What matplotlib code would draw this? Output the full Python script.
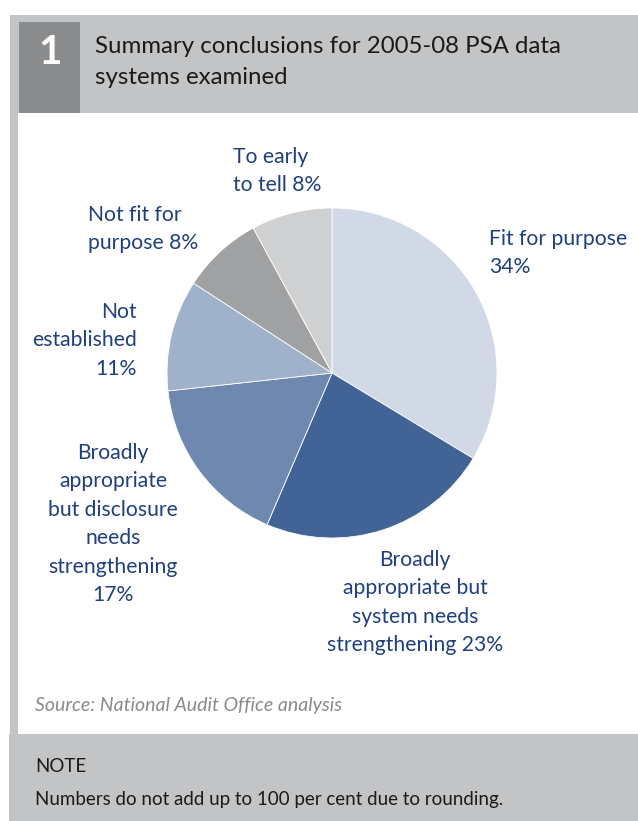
import matplotlib
matplotlib.use("Agg")
import matplotlib.pyplot as plt
from matplotlib.patches import Rectangle

W, H = 638, 821
categories = ["Fit for purpose", "Broadly appropriate but system needs strengthening",
              "Broadly appropriate but disclosure needs strengthening", "Not established",
              "Not fit for purpose", "To early to tell"]
values = [34, 23, 17, 11, 8, 8]
colors = ["#D0D9E5", "#426396", "#6E88AF", "#A0B1CB", "#A0A1A3", "#CFD0D2"]
label_texts = ["Fit for purpose\n34%",
               "Broadly\nappropriate but\nsystem needs\nstrengthening 23%",
               "Broadly\nappropriate\nbut disclosure\nneeds\nstrengthening\n17%",
               "Not\nestablished\n11%",
               "Not fit for\npurpose 8%",
               "To early\nto tell 8%"]

plt.rcParams['font.family'] = ['Lato', 'DejaVu Sans']
fig = plt.figure(figsize=(W / 100, H / 100), dpi=100)
fig.patch.set_facecolor("white")

def fx(x): return x / W
def fy(y): return 1 - y / H

# background panels
bg = fig.add_axes([0, 0, 1, 1])
bg.set_xlim(0, W); bg.set_ylim(H, 0); bg.axis("off")
bg.add_patch(Rectangle((12, 15), W - 12, 98, color="#C3C4C6", lw=0))
bg.add_patch(Rectangle((10, 15), 8, 720, color="#C3C4C6", lw=0))
bg.add_patch(Rectangle((9, 734), W - 9, H - 734, color="#C3C4C6", lw=0))
bg.add_patch(Rectangle((19, 22), 61, 91, color="#8A8B8D", lw=0))
bg.text(50, 52, "1", color="white", fontsize=29, fontweight="bold", ha="center", va="center")
bg.text(95, 36, "Summary conclusions for 2005-08 PSA data\nsystems examined",
        color="#1a1a1a", fontsize=17.3, ha="left", va="top", linespacing=1.58)
bg.text(35, 705, "Source: National Audit Office analysis", color="#8a8a8a",
        fontsize=14, style="italic", ha="left", va="center")
bg.text(35, 767, "NOTE", color="#1a1a1a", fontsize=13.5, ha="left", va="center")
bg.text(35, 800, "Numbers do not add up to 100 per cent due to rounding.", color="#1a1a1a",
        fontsize=13.5, ha="left", va="center")

# pie
cx, cy, r = 332, 373, 165
ax = fig.add_axes([fx(cx - r), fy(cy + r), 2 * r / W, 2 * r / H])
ax.pie(values, colors=colors, startangle=90, counterclock=False,
       wedgeprops=dict(linewidth=0.6, edgecolor="white"))
ax.set_xlim(-1, 1); ax.set_ylim(-1, 1)
ax.set_aspect("auto")
ax.axis("off")

lab_color = "#1F3F7E"
# (x, y_top, ha) in pixels
label_pos = [(489, 229, "left", "left"),
             (415, 550, "center", "center"),
             (113, 443, "center", "center"),
             (137, 302, "right", "right"),
             (88, 205, "left", "left"),
             (233, 147, "left", "left")]
for txt, (x, y, ha, ma) in zip(label_texts, label_pos):
    bg.text(x, y, txt, color=lab_color, fontsize=15.2, ha=ha, va="top",
            multialignment=ma, linespacing=1.53)

fig.savefig("out.png", dpi=100)
